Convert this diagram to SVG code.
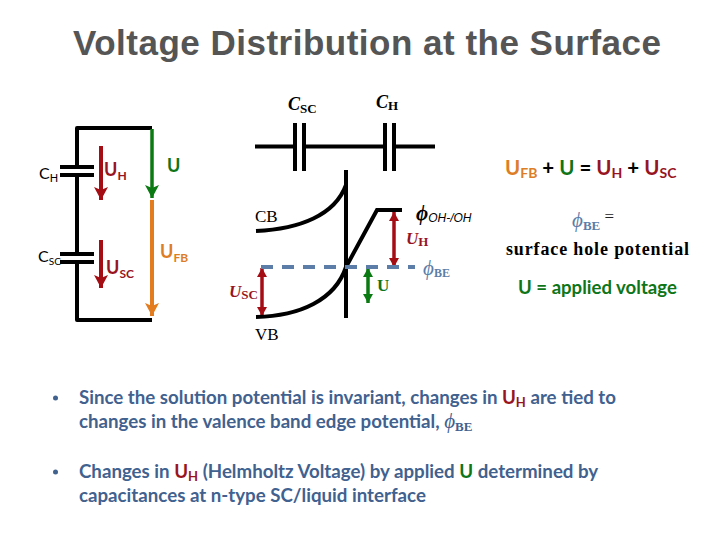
<svg xmlns="http://www.w3.org/2000/svg" width="720" height="540" viewBox="0 0 720 540">
<style>
.w{fill:none;stroke:#000;stroke-width:4}
.s{font-family:"Liberation Serif",serif}
.c{font-family:"Lato","Open Sans",sans-serif;font-weight:700}
.n{font-family:"Lato","Open Sans",sans-serif;font-weight:400}
.red{fill:#98141f}.grn{fill:#0e7518}.org{fill:#dd7d26}.k{fill:#000}
.bl{font-size:18.700px;font-family:"Lato","Open Sans",sans-serif;font-weight:700;fill:#41618f}
</style>
<defs>
<marker id="r" markerWidth="15" markerHeight="15" refX="13" refY="7.500" orient="auto-start-reverse" markerUnits="userSpaceOnUse"><path d="M0 0.500L13 7.500L0 14.500L3 7.500Z" fill="#a50d14"/></marker>
<marker id="g" markerWidth="15" markerHeight="15" refX="13" refY="7.500" orient="auto-start-reverse" markerUnits="userSpaceOnUse"><path d="M0 0.500L13 7.500L0 14.500L3 7.500Z" fill="#0b7a12"/></marker>
<marker id="o" markerWidth="15" markerHeight="15" refX="13" refY="7.500" orient="auto-start-reverse" markerUnits="userSpaceOnUse"><path d="M0 0.500L13 7.500L0 14.500L3 7.500Z" fill="#e37c1e"/></marker>
<marker id="r2" markerWidth="10" markerHeight="10" refX="9" refY="5" orient="auto-start-reverse" markerUnits="userSpaceOnUse"><path d="M0 0L9 5L0 10Z" fill="#a50d14"/></marker>
<marker id="g2" markerWidth="10" markerHeight="10" refX="9" refY="5" orient="auto-start-reverse" markerUnits="userSpaceOnUse"><path d="M0 0L9 5L0 10Z" fill="#0b7a12"/></marker>
</defs>
<text x="73" y="55" font-family="Liberation Sans,sans-serif" font-weight="700" font-size="35" fill="#555" textLength="588">Voltage Distribution at the Surface</text>
<g id="left-circuit">
<path class="w" d="M152 128H77V167M77 175V254M77 262V320H152" stroke-linejoin="round"/>
<path class="w" d="M60 167H94M60 175H94M60 254H94M60 262H94"/>
<text class="n k" x="39" y="179" font-size="16">C<tspan font-size="11" dy="3">H</tspan></text>
<text class="n k" x="38" y="262" font-size="16">C<tspan font-size="10" dy="3">SC</tspan></text>
<text class="c red" x="104" y="176" font-size="18">U<tspan font-size="12" dy="4">H</tspan></text>
<text class="c red" x="106" y="274" font-size="18">U<tspan font-size="12" dy="4">SC</tspan></text>
<text class="c grn" x="167" y="172" font-size="18">U</text>
<text class="c org" x="160" y="258" font-size="18">U<tspan font-size="12" dy="4">FB</tspan></text>
</g>
<g id="connectors" fill="none">
<path d="M101 146V200" stroke="#a50d14" stroke-width="4" marker-end="url(#r)"/>
<path d="M101 240V288" stroke="#a50d14" stroke-width="4" marker-end="url(#r)"/>
<path d="M152 129V198" stroke="#0b7a12" stroke-width="3.500" marker-end="url(#g)"/>
<path d="M152 200V316" stroke="#e37c1e" stroke-width="4" marker-end="url(#o)"/>
<path d="M262 268V316" stroke="#a50d14" stroke-width="3.500" marker-start="url(#r2)" marker-end="url(#r2)"/>
<path d="M394 212V267" stroke="#a50d14" stroke-width="3.500" marker-start="url(#r2)" marker-end="url(#r2)"/>
<path d="M368 268V303" stroke="#0b7a12" stroke-width="3.500" marker-start="url(#g2)" marker-end="url(#g2)"/>
</g>
<g id="band-diagram">
<path class="w" d="M255 146.500H294M305 146.500H385M396 146.500H435"/>
<path class="w" d="M295 123V171M304 123V171M385 123V171M394 123V171"/>
<path class="w" d="M346 170V318"/>
<path class="w" d="M256 231C300 229 335 215 346 185M256 317C300 316 335 300 346 267L377 210H402"/>
<path d="M261 267H415" stroke="#5b7da8" stroke-width="4" stroke-dasharray="12 9" fill="none"/>
<text class="s k" x="288" y="110" font-size="18" font-weight="700" font-style="italic">C<tspan font-size="13" font-style="normal" dy="3">SC</tspan></text>
<text class="s k" x="376" y="108" font-size="18" font-weight="700" font-style="italic">C<tspan font-size="13" font-style="normal" dy="2">H</tspan></text>
<text class="s k" x="255" y="222" font-size="17">CB</text>
<text class="s k" x="255" y="340" font-size="17">VB</text>
<text class="s k" x="416" y="220" font-size="21" font-weight="700" font-style="italic">ϕ<tspan font-family="Liberation Sans,sans-serif" font-size="12" font-weight="400" dy="2">OH-/OH</tspan></text>
<text class="s red" x="406" y="244" font-size="17" font-weight="700" font-style="italic">U<tspan font-size="13" font-style="normal" dy="2">H</tspan></text>
<text class="s red" x="229" y="297" font-size="17" font-weight="700" font-style="italic">U<tspan font-size="13" font-style="normal" dy="2">SC</tspan></text>
<text class="s grn" x="377" y="291" font-size="17" font-weight="700">U</text>
<text class="s" x="423" y="275" font-size="21" font-style="italic" fill="#5b7da8">ϕ<tspan font-size="12" font-weight="700" font-style="normal" dy="2">BE</tspan></text>
</g>
<g id="equations">
<text class="c" x="505" y="175" font-size="20.500"><tspan class="org">U</tspan><tspan class="org" font-size="14" dy="3">FB</tspan><tspan class="k" dy="-3"> + </tspan><tspan class="grn">U</tspan><tspan class="k"> = </tspan><tspan class="red">U</tspan><tspan class="red" font-size="14" dy="3">H</tspan><tspan class="k" dy="-3"> + </tspan><tspan class="red">U</tspan><tspan class="red" font-size="14" dy="3">SC</tspan></text>
<text class="s" x="572" y="227" font-size="21" font-style="italic" fill="#5b7da8">ϕ<tspan font-size="13" font-weight="700" font-style="normal" dy="3">BE</tspan><tspan font-size="17" font-style="normal" fill="#222" dy="-8"> =</tspan></text>
<text class="s k" x="506" y="255" font-size="18" font-weight="700" textLength="183">surface hole potential</text>
<text class="c grn" x="518" y="294" font-size="18.600">U = applied voltage</text>
</g>
<g id="bullets">
<circle cx="55.500" cy="398" r="2.500" fill="#41618f"/><circle cx="55.500" cy="472" r="2.500" fill="#41618f"/>
<text class="bl" x="79" y="404">Since the solution potential is invariant, changes in <tspan class="red">U</tspan><tspan class="red" font-size="13" dy="3">H</tspan><tspan dy="-3"> are tied to</tspan></text>
<text class="bl" x="79" y="428">changes in the valence band edge potential, <tspan class="s" font-size="21" font-style="italic" font-weight="400">ϕ</tspan><tspan class="s" font-size="13" dy="3">BE</tspan></text>
<text class="bl" x="79" y="478">Changes in <tspan class="red">U</tspan><tspan class="red" font-size="13" dy="3">H</tspan><tspan dy="-3"> (Helmholtz Voltage) by applied </tspan><tspan class="grn">U</tspan> determined by</text>
<text class="bl" x="79" y="502">capacitances at n-type SC/liquid interface</text>
</g>
</svg>
